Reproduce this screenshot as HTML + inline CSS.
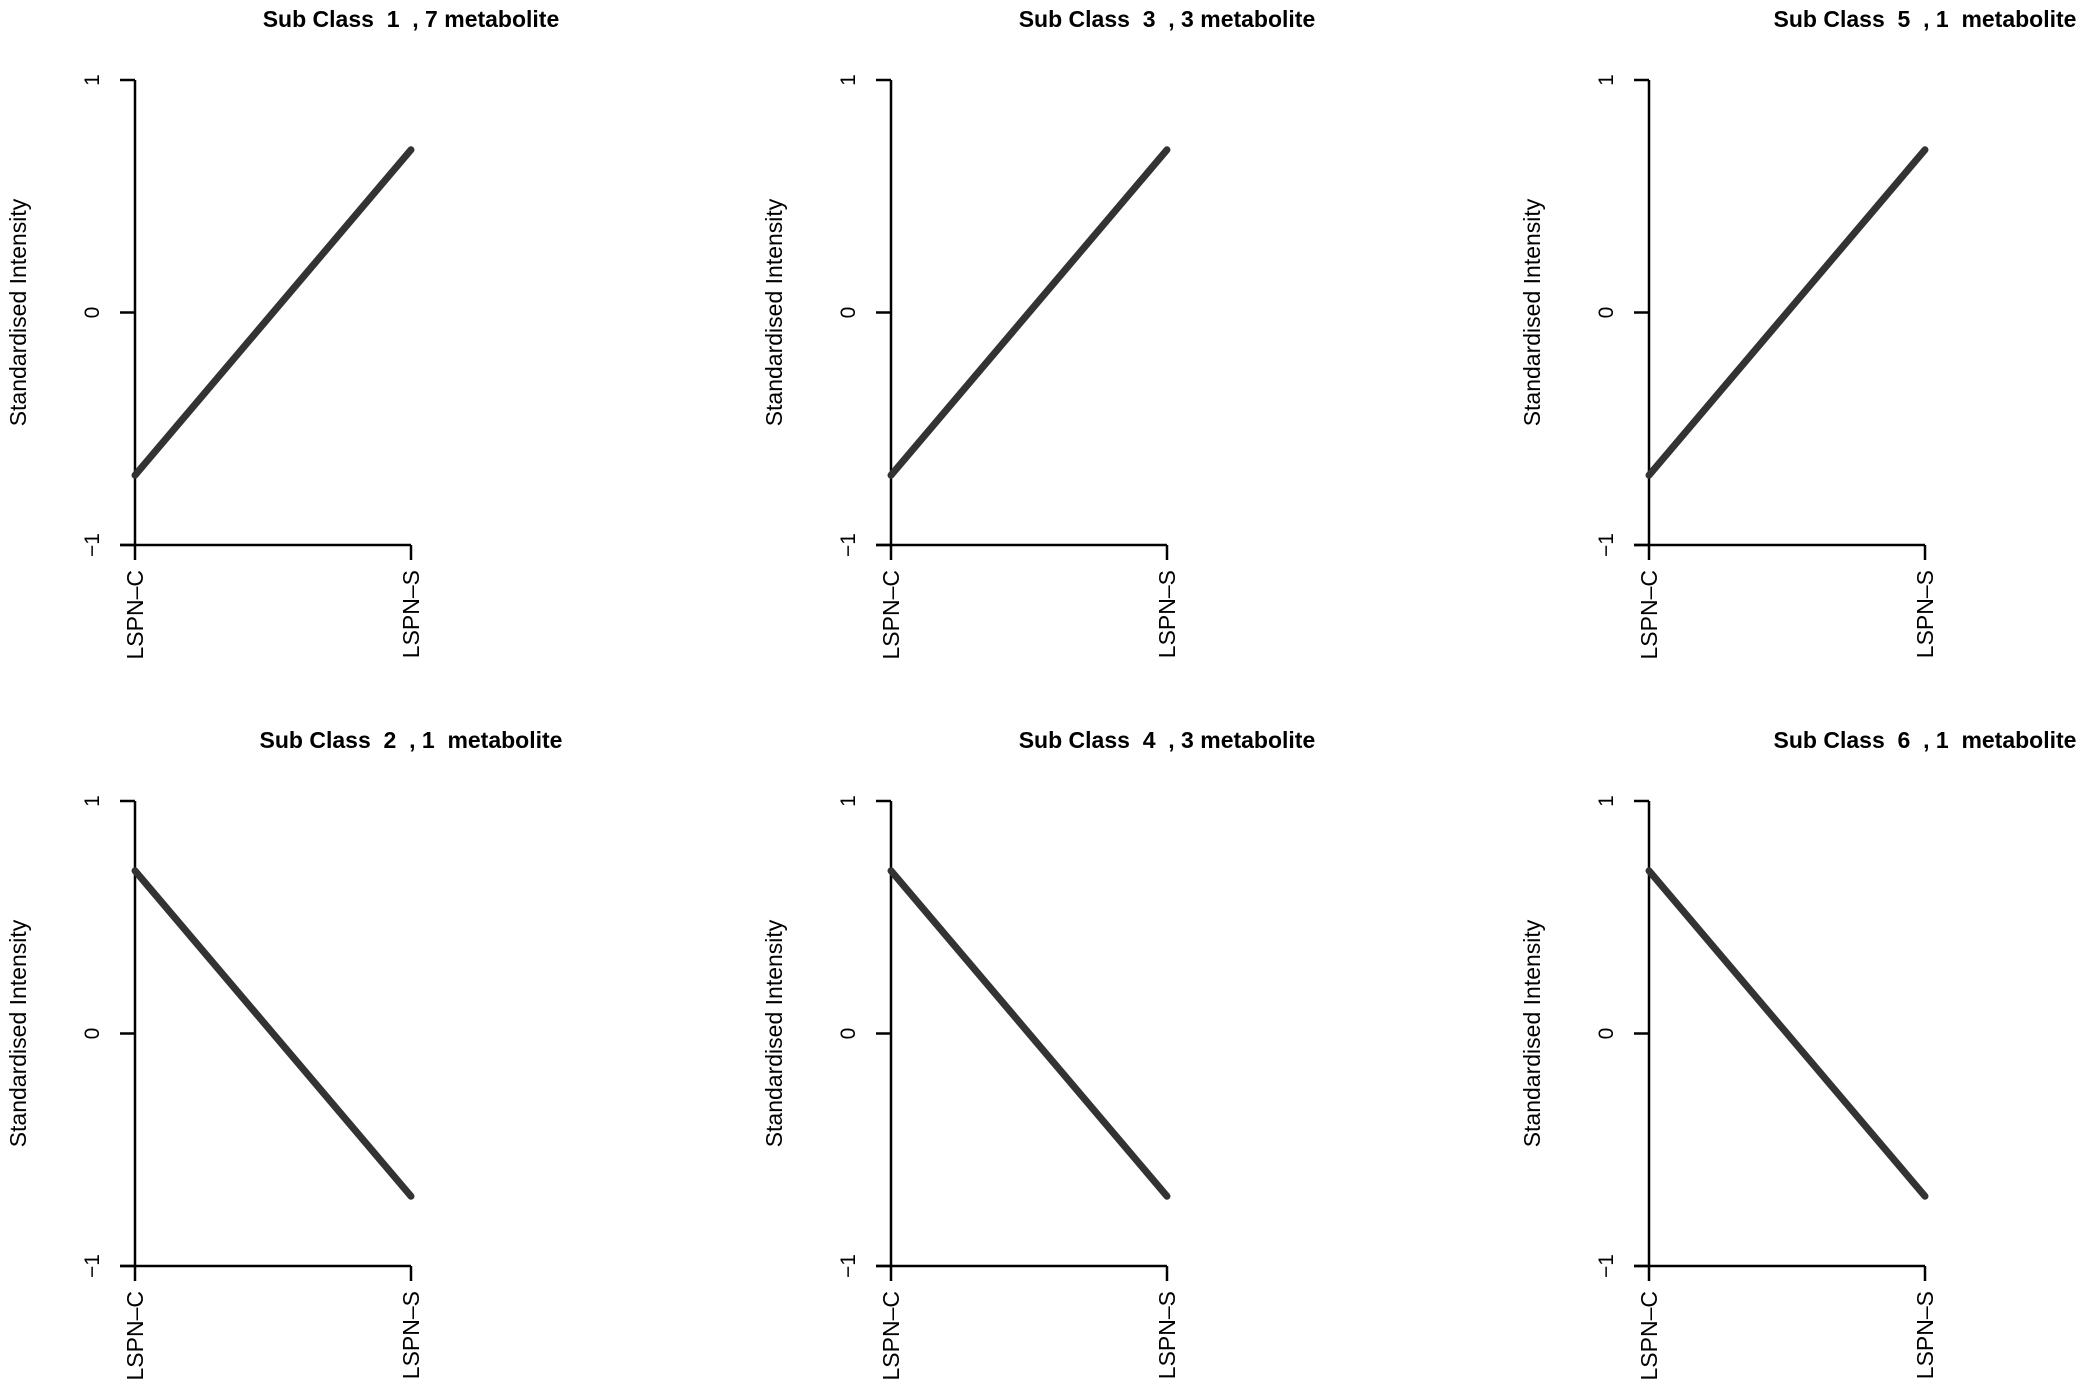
<!DOCTYPE html>
<html><head><meta charset="utf-8"><style>
html,body{margin:0;padding:0;background:#fff}
svg{display:block;font-family:"Liberation Sans",Arial,sans-serif}
text{white-space:pre}
</style></head><body>
<svg id="fig" width="2080" height="1394" viewBox="0 0 2080 1394"></svg>
<script>
const panelTitles = ["Sub Class  1  , 7 metabolite","Sub Class  2  , 1  metabolite","Sub Class  3  , 3 metabolite","Sub Class  4  , 3 metabolite","Sub Class  5  , 1  metabolite","Sub Class  6  , 1  metabolite"];
const categories = ["LSPN\u2013C","LSPN\u2013S"];
const seriesValues = [[-0.7,0.7],[0.7,-0.7],[-0.7,0.7],[0.7,-0.7],[-0.7,0.7],[0.7,-0.7]];
const yTicks = [-1,0,1];
const yTickLabels = ["\u22121","0","1"];

const NS="http://www.w3.org/2000/svg";
const svg=document.getElementById('fig');
function mk(tag,attrs,parent){const e=document.createElementNS(NS,tag);for(const k in attrs)e.setAttribute(k,attrs[k]);(parent||svg).appendChild(e);return e;}
const colX=[135,891,1649], colW=276;
const rowTop=[80,801], rowH=465;
for(let i=0;i<6;i++){
  const c=Math.floor(i/2), r=i%2;
  const x0=colX[c], x1=x0+colW, yT=rowTop[r], yB=yT+rowH;
  const sx=k=>x0+k*(x1-x0)/(categories.length-1);
  const sy=v=>yB-(v+1)/2*(yB-yT);
  const g=mk('g',{});
  
  
  const t=mk('text',{x:x0+colW,y:yT-53,'text-anchor':'middle','font-size':23,'font-weight':'bold','xml:space':'preserve'},g);
  t.textContent=panelTitles[i];
  
  
  const ya=mk('line',{x1:x0,y1:yT,x2:x0,y2:yB,stroke:'#000','stroke-width':2.5},g);
  
  
  yTicks.forEach((v,j)=>{
    mk('line',{x1:x0-15,y1:sy(v),x2:x0,y2:sy(v),stroke:'#000','stroke-width':2.5},g);
    const tl=mk('text',{x:0,y:0,'text-anchor':'middle','font-size':21,transform:`translate(${x0-36},${sy(v)}) rotate(-90)`},g);
    tl.textContent=yTickLabels[j];
    
    
  });
  const xa=mk('line',{x1:x0-15,y1:yB,x2:x1,y2:yB,stroke:'#000','stroke-width':2.5},g);
  
  
  categories.forEach((cat,k)=>{
    mk('line',{x1:sx(k),y1:yB,x2:sx(k),y2:yB+15,stroke:'#000','stroke-width':2.5},g);
    const xl=mk('text',{x:0,y:0,'text-anchor':'end','font-size':23,transform:`translate(${sx(k)+8},${yB+25}) rotate(-90)`},g);
    xl.textContent=cat;
    
    
  });
  const yt=mk('text',{x:0,y:0,'text-anchor':'middle','font-size':23,transform:`translate(${x0-109},${sy(0)}) rotate(-90)`},g);
  yt.textContent='Standardised Intensity';
  
  
  const pts=seriesValues[i].map((v,k)=>sx(k)+','+sy(v)).join(' ');
  const pl=mk('polyline',{points:pts,fill:'none',stroke:'#333','stroke-width':7,'stroke-linecap':'round'},g);
  
  
}
</script>
</body></html>
